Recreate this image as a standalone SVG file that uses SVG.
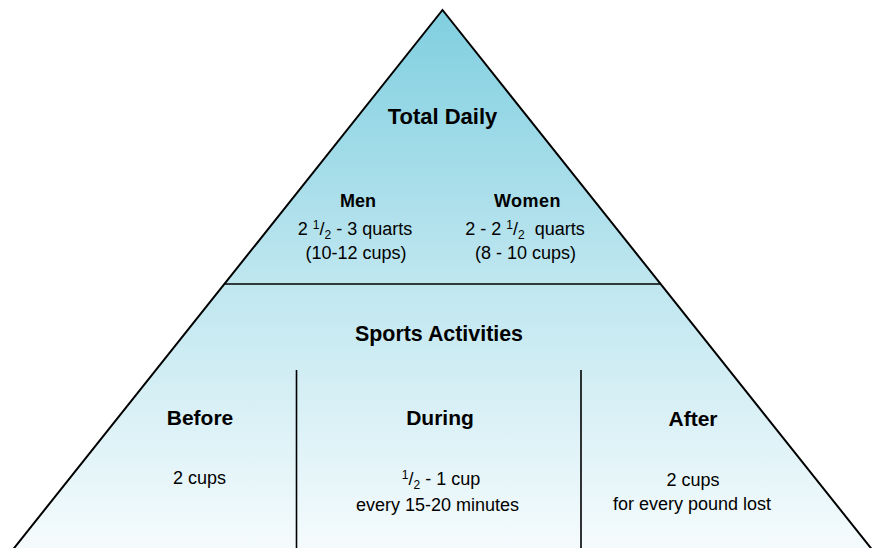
<svg xmlns="http://www.w3.org/2000/svg" width="879" height="548" viewBox="0 0 879 548">
  <defs>
    <linearGradient id="fillGrad" gradientUnits="userSpaceOnUse" x1="0" y1="10" x2="0" y2="548">
      <stop offset="0" stop-color="#80cfe0"/>
      <stop offset="0.5" stop-color="#bee6ef"/>
      <stop offset="1" stop-color="#f5fbfd"/>
    </linearGradient>
  </defs>
  <style>
    text { font-family: "Liberation Sans", Arial, sans-serif; fill: #000; text-anchor: middle; }
    .h1 { font-size: 22px; font-weight: bold; }
    .h2 { font-size: 18px; font-weight: bold; }
    .h3 { font-size: 21px; font-weight: bold; }
    .t { font-size: 18px; }
    .sm { font-size: 12px; }
    .edge { fill: none; stroke: #000; stroke-width: 2; stroke-linejoin: miter; }
    .div { stroke: #000; stroke-width: 1.6; }
  </style>
  <rect width="879" height="548" fill="#ffffff"/>
  <g id="pyramid">
    <polygon points="442.5,10 11,552 874,552" fill="url(#fillGrad)"/>
    <polyline class="edge" points="11,552 442.5,10 874,552"/>
  </g>
  <g id="connectors">
    <line class="div" x1="224" y1="284" x2="661" y2="284"/>
    <line class="div" x1="296.5" y1="370" x2="296.5" y2="548"/>
    <line class="div" x1="581" y1="370" x2="581" y2="548"/>
  </g>
  <g id="total-daily">
    <text class="h1" x="442.5" y="124">Total Daily</text>
  </g>
  <g id="men">
    <text class="h2" x="358" y="207">Men</text>
    <text class="t" x="355" y="235">2 <tspan class="sm" dy="-6">1</tspan><tspan dy="6">/</tspan><tspan class="sm" dy="4">2</tspan><tspan dy="-4"> - 3 quarts</tspan></text>
    <text class="t" x="356" y="259">(10-12 cups)</text>
  </g>
  <g id="women">
    <text class="h2" x="527.5" y="207" letter-spacing="0.5">Women</text>
    <text class="t" x="525" y="235" xml:space="preserve">2 - 2 <tspan class="sm" dy="-6">1</tspan><tspan dy="6">/</tspan><tspan class="sm" dy="4">2</tspan><tspan dy="-4">  quarts</tspan></text>
    <text class="t" x="525.5" y="259">(8 - 10 cups)</text>
  </g>
  <g id="sports-activities">
    <text class="h1" x="439" y="341" textLength="168" lengthAdjust="spacingAndGlyphs">Sports Activities</text>
  </g>
  <g id="before">
    <text class="h3" x="200" y="425">Before</text>
    <text class="t" x="199.5" y="484">2 cups</text>
  </g>
  <g id="during">
    <text class="h3" x="440" y="425">During</text>
    <text class="t" x="441" y="485"><tspan class="sm" dy="-6">1</tspan><tspan dy="6">/</tspan><tspan class="sm" dy="4">2</tspan><tspan dy="-4"> - 1 cup</tspan></text>
    <text class="t" x="437.5" y="511">every 15-20 minutes</text>
  </g>
  <g id="after">
    <text class="h3" x="693" y="426">After</text>
    <text class="t" x="693" y="486">2 cups</text>
    <text class="t" x="692" y="510">for every pound lost</text>
  </g>
</svg>
